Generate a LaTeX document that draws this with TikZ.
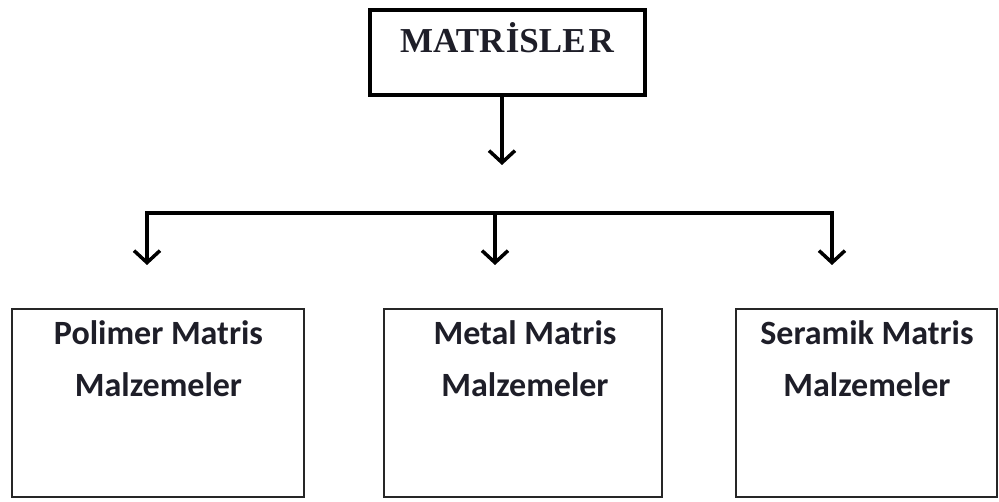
\documentclass[tikz,border=0pt]{standalone}
\usepackage{fontspec}
\newfontfamily\boxfont{Carlito}
\newfontfamily\topfont{Liberation Serif}
\usetikzlibrary{arrows.meta}
\definecolor{inkc}{RGB}{30,30,40}
\tikzset{
  topbox/.style={draw=black, line width=4pt, rectangle, minimum width=275pt, minimum height=85pt, inner sep=0pt},
  subbox/.style={draw=black!85, line width=2pt, rectangle, minimum width=#1, minimum height=188pt, inner sep=0pt},
  toptext/.style={font=\topfont\bfseries\fontsize{35pt}{40pt}\selectfont, text=inkc, anchor=base, inner sep=0pt},
  subtext/.style={font=\boxfont\bfseries\fontsize{34pt}{40pt}\selectfont, text=inkc, anchor=base, inner sep=0pt},
  conn/.style={line width=3.5pt, draw=black},
  arr/.style={conn, -{Straight Barb[length=12pt, width=26pt, line width=3.5pt]}}
}
\begin{document}
\begin{tikzpicture}[x=1pt, y=-1pt]
\useasboundingbox[fill=white] (0,0) rectangle (999,502);
% top box
\node[topbox] (top) at (507.5,52.5) {};
\node[toptext] (toptxt) at (507,53) {MATR\kern1.5pt İSLE\kern3pt R};
% lower boxes
\node[subbox=292pt] (pb) at (158,403) {};
\node[subbox=278pt] (mb) at (523,403) {};
\node[subbox=261pt] (sb) at (866.5,403) {};
\node[subtext] (pt1) at (158.5,345) {Polimer Matris};
\node[subtext] (pt2) at (158.5,397) {Malzemeler};
\node[subtext] (mt1) at (525,345) {Metal Matris};
\node[subtext] (mt2) at (525,397) {Malzemeler};
\node[subtext] (st1) at (867,345) {Seramik Matris};
\node[subtext] (st2) at (867,397) {Malzemeler};
% connectors
\coordinate (ts) at (502,97);
\coordinate (te) at (502,165);
\coordinate (hl) at (147,213);
\coordinate (hm) at (495,213);
\coordinate (hr) at (832,213);
\coordinate (al) at (147,265);
\coordinate (am) at (495,265);
\coordinate (ar) at (832,265);
\draw[arr] (ts) -- (te);
\draw[conn, line cap=rect] (hl) -- (hr);
\draw[arr] (hl) -- (al);
\draw[arr] (hm) -- (am);
\draw[arr] (hr) -- (ar);
\end{tikzpicture}
\end{document}
